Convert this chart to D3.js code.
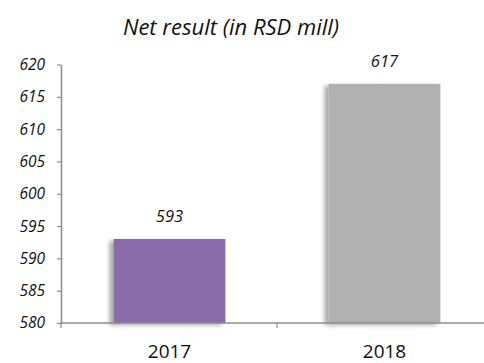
<!DOCTYPE html>
<html>
<head>
<meta charset="utf-8">
<script src="https://cdn.jsdelivr.net/npm/d3@7"></script>
<style>
  html, body { margin: 0; padding: 0; background: #fff; }
  svg { display: block; font-family: "Open Sans", "Liberation Sans", sans-serif; }
</style>
</head>
<body>
<svg id="chart" width="484" height="363"></svg>
<script>
// Net result by year, RSD millions
const years = ["2017", "2018"];
const netResult = [593, 617];
const barColors = ["#8a6cab", "#b0b0b0"];
const yTicks = [580, 585, 590, 595, 600, 605, 610, 615, 620];
const title = "Net result (in RSD mill)";

const svg = d3.select("#chart");
const axisColor = "#8c8c8c";

const x = d3.scaleBand()
  .domain(years)
  .range([62, 492])
  .paddingInner(0.48)
  .paddingOuter(0.24);

const y = d3.scaleLinear()
  .domain([580, 620])
  .range([323, 64.5]);

// soft shadow falling to the left of each bar
const defs = svg.append("defs");
const shadow = defs.append("filter").attr("id", "barShadow")
  .attr("x", "-20%").attr("y", "-10%").attr("width", "140%").attr("height", "120%");
shadow.append("feDropShadow")
  .attr("dx", -4).attr("dy", 2).attr("stdDeviation", 2.2)
  .attr("flood-color", "#000").attr("flood-opacity", 0.35);

// title
svg.append("text")
  .attr("x", 231).attr("y", 35)
  .attr("text-anchor", "middle")
  .attr("font-size", 22)
  .attr("font-style", "italic")
  .attr("fill", "#111")
  .text(title);

// bars
svg.append("g").selectAll("rect")
  .data(years)
  .join("rect")
  .attr("x", d => x(d))
  .attr("width", x.bandwidth())
  .attr("y", (d, i) => y(netResult[i]))
  .attr("height", (d, i) => y(580) - y(netResult[i]))
  .attr("fill", (d, i) => barColors[i])
  .attr("filter", "url(#barShadow)");

// value labels
svg.append("g").selectAll("text")
  .data(years)
  .join("text")
  .attr("x", d => x(d) + x.bandwidth() / 2)
  .attr("y", (d, i) => y(netResult[i]) - 17)
  .attr("text-anchor", "middle")
  .attr("font-size", 16.5)
  .attr("font-style", "italic")
  .attr("fill", "#111")
  .text((d, i) => netResult[i]);

// y axis
const yAxis = svg.append("g")
  .attr("transform", "translate(61,0)")
  .call(d3.axisLeft(y).tickValues(yTicks).tickSize(4).tickPadding(12).tickSizeOuter(0));
yAxis.select(".domain").attr("stroke", axisColor).attr("stroke-width", 1.5);
yAxis.selectAll(".tick line").attr("stroke", axisColor).attr("stroke-width", 1.2);
yAxis.selectAll(".tick text")
  .attr("font-size", 15.5)
  .attr("font-style", "italic")
  .attr("fill", "#111")
  .attr("font-family", "'Open Sans', sans-serif");

// x axis: baseline, category labels and ticks at band boundaries
const xAxis = svg.append("g")
  .attr("transform", `translate(0,${y(580)})`)
  .call(d3.axisBottom(x).tickSize(0).tickPadding(22).tickSizeOuter(0));
xAxis.select(".domain").attr("d", "M60,0H492").attr("stroke", axisColor).attr("stroke-width", 1.5);
xAxis.selectAll(".tick text")
  .attr("font-size", 19)
  .attr("fill", "#111")
  .attr("font-family", "'Open Sans', sans-serif");

const bounds = years.slice(0, -1).map(d => x(d) + x.bandwidth() + x.step() * x.paddingInner() / 2);
xAxis.append("g").selectAll("line")
  .data([61].concat(bounds))
  .join("line")
  .attr("x1", d => d).attr("x2", d => d)
  .attr("y1", 0).attr("y2", 5)
  .attr("stroke", axisColor).attr("stroke-width", 1.2);
</script>
</body>
</html>
